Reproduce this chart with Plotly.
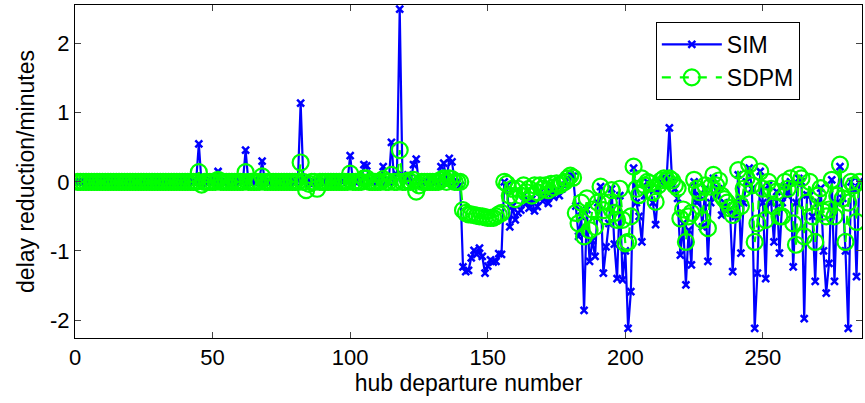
import plotly.graph_objects as go

# hub departure numbers 1..285
x_vals = list(range(1, 286))

# SIM series (delay reduction, minutes)
sim_1_44 = [0.0]*44
sim_45_139 = [
    0.55, -0.03, 0.02, 0.0, 0.0, 0.0, 0.02, 0.15, 0.0, 0.0,       # 45-54
    0.0, 0.03, 0.0, 0.0, 0.0, 0.02, 0.0, 0.46, 0.0, 0.0,          # 55-64
    0.0, 0.0, 0.03, 0.3, 0.0, 0.0, 0.0, 0.02, 0.0, 0.0,           # 65-74
    0.0, 0.0, 0.03, 0.0, 0.0, 0.0, 0.02, 1.14, 0.0, 0.05,         # 75-84
    -0.02, 0.0, 0.0, -0.03, 0.0, 0.0, 0.0, 0.02, 0.0, 0.0,        # 85-94
    0.0, 0.03, 0.0, 0.05, 0.0, 0.38, 0.0, 0.0, 0.02, 0.0,         # 95-104
    0.25, 0.23, 0.0, 0.0, 0.05, 0.0, 0.0, 0.22, 0.0, 0.0,         # 105-114
    0.57, 0.0, 0.1, 2.5, 0.05, 0.0, 0.1, 0.0, 0.25, 0.33,         # 115-124
    -0.05, 0.0, 0.0, 0.0, 0.05, 0.0, 0.0, 0.0, 0.22, 0.27,        # 125-134
    0.0, 0.34, 0.29, 0.0, 0.0,                                    # 135-139
]
sim_140_285 = [
    -0.05, -1.23, -1.3, -1.28, -1.1, -0.99, -1.05, -0.96, -1.08, -1.32,  # 140-149
    -1.22, -1.13, -1.16, -1.15, -1.04, -1.05, 0.0, -0.05, -0.65, -0.35,  # 150-159
    -0.55, -0.45, -0.41, -0.2, -0.31, -0.38, -0.25, -0.42, -0.36, -0.15, # 160-169
    -0.28, -0.2, -0.31, -0.15, -0.22, -0.12, -0.2, -0.1, -0.05, 0.05,    # 170-179
    0.1, 0.08, -0.35, -0.79, -0.5, -1.86, -0.4, -1.15, -0.85, -1.08,     # 180-189
    -0.3, -0.07, -1.32, -0.94, -0.6, -0.1, -0.9, -1.4, -0.2, -1.42,      # 190-199
    -1.0, -2.12, -1.59, 0.2, -0.3, -0.5, -0.87, -0.2, 0.0, -0.1,         # 200-209
    -0.3, -0.62, -0.1, 0.0, 0.05, 0.05, 0.78, 0.0, -0.1, -0.24,          # 210-219
    -1.06, -0.6, -1.49, -0.7, -1.2, 0.0, -0.3, -0.2, -0.65, -0.1,        # 220-229
    -1.15, -0.3, 0.05, -0.2, -0.1, -0.48, -0.3, -0.35, -0.4, -1.3,       # 230-239
    -0.5, 0.1, -1.03, -0.3, 0.0, 0.2, -0.1, -2.12, -1.32, 0.15,          # 240-249
    -0.3, -1.4, -0.05, -0.3, -0.87, -0.14, -1.03, -0.3, -0.05, -0.2,     # 250-259
    0.0, -1.23, -0.3, 0.05, 0.0, -1.98, -0.19, -0.2, -0.5, -1.44,        # 260-269
    -0.3, -0.09, -1.0, -1.61, -1.18, 0.03, -1.44, -0.3, 0.22, -0.24,     # 270-279
    -1.0, -2.12, 0.0, -0.1, -1.37, 0.0,                                  # 280-285
]
sim = sim_1_44 + sim_45_139 + sim_140_285

# SDPM series
sdpm_1_44 = [0.0]*44
sdpm_45_139 = [
    0.14, -0.04, 0.0, 0.0, 0.0, 0.0, 0.0, 0.03, 0.0, 0.0,         # 45-54
    0.0, 0.0, 0.0, 0.0, 0.0, 0.0, 0.0, 0.14, 0.0, 0.0,            # 55-64
    0.0, 0.0, 0.0, 0.08, 0.0, 0.0, 0.0, 0.0, 0.0, 0.0,            # 65-74
    0.0, 0.0, 0.0, 0.0, 0.0, 0.0, 0.0, 0.28, 0.0, -0.12,          # 75-84
    -0.03, 0.0, 0.0, -0.1, 0.0, 0.0, 0.0, 0.0, 0.0, 0.0,          # 85-94
    0.0, 0.0, 0.0, 0.0, 0.0, 0.12, 0.0, 0.0, 0.0, 0.0,            # 95-104
    0.05, 0.05, 0.0, 0.0, 0.0, 0.0, 0.0, 0.04, 0.0, 0.0,          # 105-114
    0.1, 0.0, 0.0, 0.46, 0.0, 0.0, 0.02, 0.0, 0.03, -0.14,        # 115-124
    -0.05, 0.0, 0.0, 0.0, 0.0, 0.0, 0.0, 0.0, 0.03, 0.05,         # 125-134
    0.0, 0.05, 0.04, 0.0, 0.0,                                    # 135-139
]
sdpm_140_285 = [
    0.0, -0.41, -0.45, -0.47, -0.47, -0.48, -0.49, -0.5, -0.5, -0.51,    # 140-149
    -0.52, -0.52, -0.52, -0.5, -0.47, -0.45, 0.0, -0.03, -0.2, -0.1,     # 150-159
    -0.25, -0.1, -0.2, -0.05, -0.15, -0.1, -0.2, -0.05, -0.15, -0.05,    # 160-169
    -0.1, -0.05, -0.12, -0.03, -0.08, -0.02, -0.05, -0.02, 0.0, 0.05,    # 170-179
    0.09, 0.06, -0.45, -0.6, -0.3, -0.79, -0.24, -0.7, -0.4, -0.65,      # 180-189
    -0.3, -0.07, -0.41, -0.5, -0.3, -0.12, -0.45, -0.55, -0.1, -0.55,    # 190-199
    -0.89, -0.87, -0.5, 0.22, -0.1, -0.19, 0.05, -0.05, 0.0, -0.02,      # 200-209
    -0.15, -0.29, -0.05, 0.02, 0.05, 0.03, 0.05, 0.02, -0.05, -0.09,     # 210-219
    -0.53, -0.4, -0.87, -0.5, -0.45, 0.03, -0.1, -0.15, -0.55, -0.05,    # 220-229
    -0.67, -0.07, 0.1, -0.05, 0.02, -0.2, -0.25, -0.3, -0.38, -0.48,     # 230-239
    -0.4, 0.17, -0.35, -0.1, 0.05, 0.25, -0.05, -0.87, -0.6, 0.15,       # 240-249
    -0.1, -0.55, 0.0, -0.1, -0.35, -0.14, -0.5, -0.5, 0.0, -0.1,         # 250-259
    0.05, -0.6, -0.91, 0.1, 0.05, -0.79, -0.3, 0.0, -0.5, -0.87,         # 260-269
    -0.2, -0.09, -0.43, -0.5, -0.4, 0.03, -0.5, -0.2, 0.25, -0.24,       # 270-279
    -0.87, -0.3, 0.0, -0.05, -0.58, 0.0,                                 # 280-285
]
sdpm = sdpm_1_44 + sdpm_45_139 + sdpm_140_285

y_ticks = [-2, -1, 0, 1, 2]
y_tick_text = ["-2", "-1", "0", "1", "2"]
x_ticks = [0, 50, 100, 150, 200, 250]

FONT = "Liberation Sans, Arial, sans-serif"

fig = go.Figure()
fig.add_trace(go.Scatter(
    x=x_vals, y=sim, name="SIM", mode="lines+markers",
    line=dict(color="#0000ff", width=2.2),
    marker=dict(symbol="x-thin", size=7, line=dict(width=2.5, color="#0000ff"), color="#0000ff"),
))
fig.add_trace(go.Scatter(
    x=x_vals, y=sdpm, name="SDPM", mode="lines+markers",
    line=dict(color="#00ff00", width=2.2, dash="dash"),
    marker=dict(symbol="circle-open", size=16, line=dict(width=2.2, color="#00ff00"), color="#00ff00"),
))

fig.update_layout(
    width=865, height=403,
    margin=dict(l=75, r=3, t=5, b=65),
    paper_bgcolor="white", plot_bgcolor="white",
    font=dict(family=FONT, size=22, color="black"),
    showlegend=True,
    legend=dict(
        x=0.921, y=0.949, xanchor="right", yanchor="top",
        bordercolor="black", borderwidth=1, bgcolor="white",
        font=dict(size=23), itemwidth=60, tracegroupgap=4,
    ),
)
fig.update_xaxes(
    range=[0, 286], tickvals=x_ticks, ticks="inside", ticklen=6,
    showline=True, linecolor="black", linewidth=1, mirror="ticks",
    showgrid=False, zeroline=False,
    title=dict(text="hub departure number", font=dict(size=23), standoff=4),
    tickfont=dict(size=22),
)
fig.update_yaxes(
    range=[-2.26, 2.56], tickvals=y_ticks, ticktext=y_tick_text,
    ticks="inside", ticklen=6,
    showline=True, linecolor="black", linewidth=1, mirror="ticks",
    showgrid=False, zeroline=False,
    title=dict(text="delay reduction/minutes", font=dict(size=23), standoff=8),
    tickfont=dict(size=22),
)

fig.write_html("out.html")
